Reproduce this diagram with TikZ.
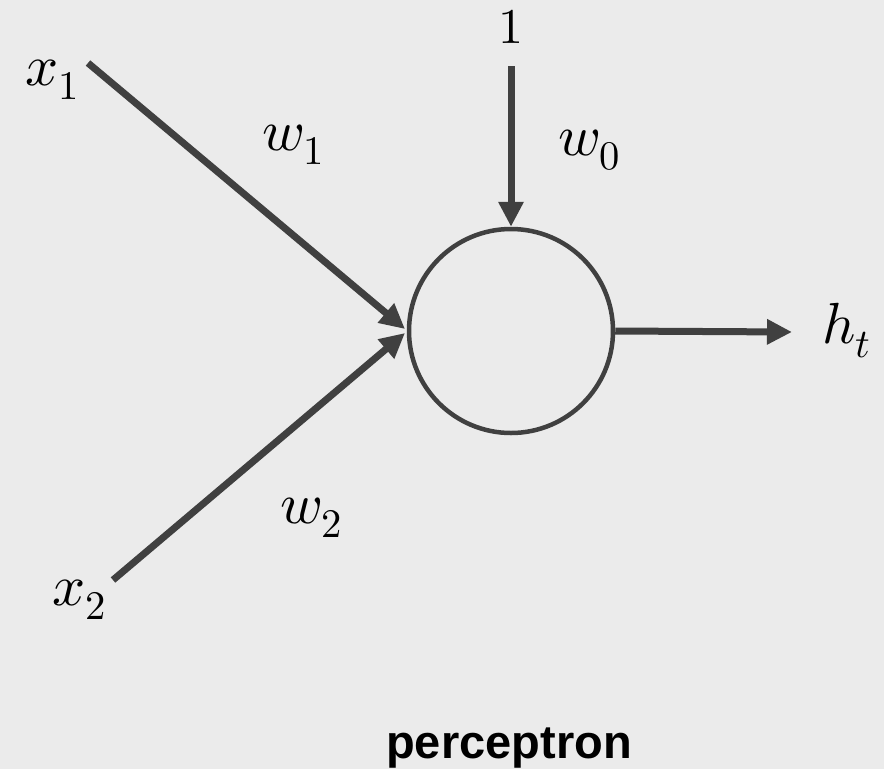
\documentclass[tikz,border=0pt]{standalone}
\usepackage{fontspec}
\usepackage{unicode-math}
\setmathfont{Latin Modern Math}
\usetikzlibrary{arrows.meta}
\newfontfamily\labelsans{Liberation Sans}
\definecolor{bgc}{HTML}{EBEBEB}
\definecolor{lnc}{HTML}{404040}
\tikzset{
  conn/.style={draw=lnc, line width=7pt, -{Triangle[length=25pt,width=24pt]}},
  lab/.style={inner sep=0pt, anchor=base west, font=\fontsize{58}{64}\selectfont},
}
\begin{document}
\begin{tikzpicture}[x=1pt,y=-1pt]
\fill[bgc] (0,0) rectangle (884,769);
\useasboundingbox (0,0) rectangle (884,769);
\node[draw=lnc, line width=4.5pt, circle, minimum size=204pt, inner sep=0pt] (c) at (511,331) {};
\coordinate (s1) at (88,63);
\coordinate (s2) at (113,580);
\coordinate (s0) at (511,66);
\coordinate (t1) at (405,329);
\coordinate (t2) at (405,333);
\coordinate (out) at (792,332);
\node[lab] (x1) at (25,85) {$x_1$};
\node[lab] (x2) at (52,605) {$x_2$};
\node[lab, anchor=base, font=\fontsize{50}{56}\selectfont] (one) at (511,43) {$1$};
\node[lab] (w1) at (262,150) {$w_1$};
\node[lab] (w0) at (558,155) {$w_0$};
\node[lab] (w2) at (280,523) {$w_2$};
\node[lab] (ht) at (822,343) {$h_t$};
\node[inner sep=0pt, anchor=base, font=\labelsans\bfseries\fontsize{47}{52}\selectfont] (cap) at (509,758) {perceptron};
\draw[conn] (s1) -- (t1);
\draw[conn] (s2) -- (t2);
\draw[conn] (s0) -- (c.north);
\draw[conn] (c.east) -- (out);
\end{tikzpicture}
\end{document}
